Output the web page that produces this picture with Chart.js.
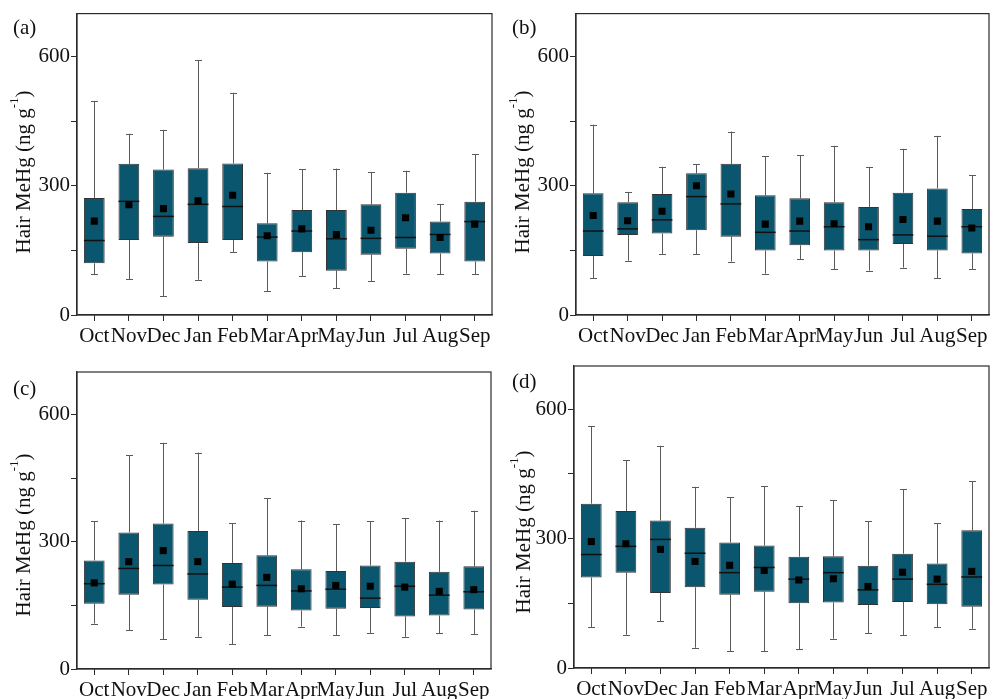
<!DOCTYPE html>
<html>
<head>
<meta charset="utf-8">
<script src="https://cdn.jsdelivr.net/npm/chart.js@4"></script>
<style>
  body { margin: 0; background: #fff; }
  .panel { position: absolute; width: 497px; height: 350px; }
</style>
</head>
<body>
<div class="panel" style="left:0;top:0"><canvas id="chartA"></canvas></div>
<div class="panel" style="left:497px;top:0"><canvas id="chartB"></canvas></div>
<div class="panel" style="left:0;top:350px"><canvas id="chartC"></canvas></div>
<div class="panel" style="left:497px;top:350px"><canvas id="chartD"></canvas></div>
<script>
// Hair MeHg box plots by month, four panels

const months = ['Oct', 'Nov', 'Dec', 'Jan', 'Feb', 'Mar', 'Apr', 'May', 'Jun', 'Jul', 'Aug', 'Sep'];
const yTicks = [0, 150, 300, 450, 600];
const yLabeled = [0, 300, 600];

// panel (a)
const aLow  = [95, 83, 43, 82, 146, 56, 90, 62, 79, 96, 95, 95];
const aQ1   = [120, 174, 182, 167, 174, 124, 146, 103, 140, 154, 143, 124];
const aMed  = [173, 264, 229, 257, 252, 181, 195, 177, 178, 180, 187, 217];
const aQ3   = [272, 351, 338, 341, 352, 213, 244, 244, 257, 284, 217, 263];
const aHigh = [496, 421, 430, 592, 516, 330, 338, 340, 331, 335, 258, 373];
const aMean = [218, 256, 247, 265, 278, 184, 200, 187, 197, 226, 180, 211];

// panel (b)
const bLow  = [86, 126, 142, 141, 124, 96, 130, 106, 103, 110, 86, 107];
const bQ1   = [137, 186, 189, 197, 182, 150, 162, 150, 150, 165, 150, 143];
const bMed  = [195, 200, 221, 275, 258, 192, 195, 205, 175, 186, 183, 205];
const bQ3   = [283, 262, 281, 329, 351, 278, 271, 262, 251, 284, 294, 246];
const bHigh = [442, 286, 344, 350, 426, 369, 371, 393, 344, 386, 416, 324];
const bMean = [231, 219, 241, 300, 281, 211, 218, 212, 205, 222, 218, 202];

// panel (c)
const cLow  = [107, 92, 70, 76, 58, 79, 100, 79, 85, 76, 84, 82];
const cQ1   = [154, 175, 199, 163, 146, 147, 138, 142, 144, 124, 126, 140];
const cMed  = [201, 237, 244, 224, 193, 197, 184, 188, 167, 195, 174, 182];
const cQ3   = [256, 322, 343, 325, 250, 268, 235, 231, 244, 253, 229, 242];
const cHigh = [348, 504, 533, 510, 344, 403, 350, 341, 348, 356, 350, 373];
const cMean = [203, 253, 279, 253, 200, 216, 189, 197, 195, 193, 183, 187];

// panel (d)
const dLow  = [94, 77, 109, 47, 39, 39, 44, 68, 80, 76, 95, 91];
const dQ1   = [210, 221, 174, 187, 170, 177, 150, 152, 146, 153, 148, 142];
const dMed  = [263, 282, 298, 266, 221, 233, 206, 221, 181, 206, 194, 211];
const dQ3   = [381, 364, 342, 325, 291, 284, 258, 259, 237, 265, 242, 319];
const dHigh = [561, 482, 515, 420, 396, 421, 375, 389, 340, 415, 336, 433];
const dMean = [293, 288, 275, 247, 238, 226, 204, 207, 189, 222, 206, 224];

const FONT = "'Liberation Serif', 'Times New Roman', serif";
const BOX_FILL = '#0a566e';
const INK = '#2b2b2b';

// whiskers under the boxes, medians on top of the boxes, frame + texts last
const boxPlotPlugin = {
    id: 'boxPlot',
    beforeDatasetsDraw(chart) {
        const s = chart.options.plugins.boxPlot;
        const x = chart.scales.x, y = chart.scales.y;
        const ctx = chart.ctx;
        ctx.save();
        ctx.strokeStyle = '#5a5a5a';
        ctx.lineWidth = 1;
        s.low.forEach((lo, i) => {
            const cx = Math.round(x.getPixelForValue(i)) + 0.5;
            const yLo = y.getPixelForValue(lo), yHi = y.getPixelForValue(s.high[i]);
            ctx.beginPath();
            ctx.moveTo(cx, yLo); ctx.lineTo(cx, y.getPixelForValue(s.q1[i]));
            ctx.moveTo(cx, y.getPixelForValue(s.q3[i])); ctx.lineTo(cx, yHi);
            ctx.moveTo(cx - 3.5, Math.round(yLo) + 0.5); ctx.lineTo(cx + 3.5, Math.round(yLo) + 0.5);
            ctx.moveTo(cx - 3.5, Math.round(yHi) + 0.5); ctx.lineTo(cx + 3.5, Math.round(yHi) + 0.5);
            ctx.stroke();
        });
        ctx.restore();
    },
    afterDatasetDraw(chart, args) {
        if (args.meta.type !== 'bar') return;
        const s = chart.options.plugins.boxPlot;
        const y = chart.scales.y;
        const ctx = chart.ctx;
        ctx.save();
        ctx.strokeStyle = '#111';
        ctx.lineWidth = 1.5;
        args.meta.data.forEach((bar, i) => {
            const half = bar.width / 2;
            const my = y.getPixelForValue(s.med[i]);
            ctx.beginPath();
            ctx.moveTo(bar.x - half, my); ctx.lineTo(bar.x + half, my);
            ctx.stroke();
        });
        ctx.restore();
    },
    afterDraw(chart) {
        const s = chart.options.plugins.boxPlot;
        const a = chart.chartArea;
        const ctx = chart.ctx;
        ctx.save();
        ctx.strokeStyle = INK;
        ctx.lineWidth = 1.2;
        ctx.strokeRect(a.left, a.top, a.right - a.left, a.bottom - a.top);

        ctx.fillStyle = '#111';
        ctx.font = '21px ' + FONT;
        ctx.textBaseline = 'middle';
        ctx.textAlign = 'left';
        ctx.fillText(s.tag, s.tagX, s.tagY);

        // y title with superscript
        const main = 'Hair MeHg (ng g';
        const sup = '-1';
        const close = ')';
        ctx.font = '21px ' + FONT;
        const wMain = ctx.measureText(main).width;
        const wClose = ctx.measureText(close).width;
        ctx.font = '13px ' + FONT;
        const wSup = ctx.measureText(sup).width;
        const total = wMain + wSup + wClose;
        ctx.translate(s.titleX, s.titleY);
        ctx.rotate(-Math.PI / 2);
        let px = -total / 2;
        ctx.font = '21px ' + FONT;
        ctx.fillText(main, px, 0);
        px += wMain;
        ctx.font = '13px ' + FONT;
        ctx.fillText(sup, px, -9);
        px += wSup;
        ctx.font = '21px ' + FONT;
        ctx.fillText(close, px, 0);
        ctx.restore();
    }
};

function makePanel(canvasId, d, box) {
    const W = 497, H = 350;
    const ctx = document.getElementById(canvasId).getContext('2d');
    return new Chart(ctx, {
        type: 'bar',
        data: {
            labels: months,
            datasets: [{
                type: 'bar',
                data: d.q1.map((v, i) => [v, d.q3[i]]),
                backgroundColor: BOX_FILL,
                borderColor: '#333',
                borderWidth: 1,
                borderSkipped: false,
                barPercentage: 0.6,
                categoryPercentage: 1,
                order: 2
            }, {
                type: 'line',
                data: d.mean,
                showLine: false,
                pointStyle: 'rect',
                pointRadius: 5,
                pointBackgroundColor: '#000',
                pointBorderWidth: 0,
                order: 1
            }]
        },
        options: {
            responsive: true,
            maintainAspectRatio: false,
            animation: false,
            layout: {
                padding: { left: 0, top: box.top, right: W - box.right, bottom: 0 }
            },
            scales: {
                x: {
                    offset: true,
                    afterFit(scale) { scale.height = H - box.bottom; },
                    grid: { offset: false, drawOnChartArea: false, tickLength: 6, tickColor: INK, tickWidth: 1 },
                    border: { display: true, color: INK, width: 1.2 },
                    ticks: {
                        autoSkip: false, maxRotation: 0, minRotation: 0, padding: 3,
                        color: '#111', font: { family: FONT, size: 21 }
                    }
                },
                y: {
                    min: 0,
                    max: 700,
                    afterFit(scale) { scale.width = box.left; },
                    afterBuildTicks(scale) { scale.ticks = yTicks.map(v => ({ value: v })); },
                    grid: { drawOnChartArea: false, tickLength: 6, tickColor: INK, tickWidth: 1 },
                    border: { display: true, color: INK, width: 1.2 },
                    ticks: {
                        padding: 1,
                        color: '#111',
                        font: { family: FONT, size: 21 },
                        callback: v => yLabeled.includes(v) ? String(v) : ''
                    }
                }
            },
            plugins: {
                legend: { display: false },
                tooltip: { enabled: false },
                boxPlot: Object.assign({}, d, box)
            }
        },
        plugins: [boxPlotPlugin]
    });
}

makePanel('chartA',
    { low: aLow, q1: aQ1, med: aMed, q3: aQ3, high: aHigh, mean: aMean },
    { left: 77, top: 13, right: 493, bottom: 315, tag: '(a)', tagX: 13, tagY: 28, titleX: 24, titleY: 172 });
makePanel('chartB',
    { low: bLow, q1: bQ1, med: bMed, q3: bQ3, high: bHigh, mean: bMean },
    { left: 79, top: 13, right: 496, bottom: 315, tag: '(b)', tagX: 15, tagY: 28, titleX: 26, titleY: 172 });
makePanel('chartC',
    { low: cLow, q1: cQ1, med: cMed, q3: cQ3, high: cHigh, mean: cMean },
    { left: 77, top: 22, right: 491, bottom: 319, tag: '(c)', tagX: 13, tagY: 39, titleX: 24, titleY: 185 });
makePanel('chartD',
    { low: dLow, q1: dQ1, med: dMed, q3: dQ3, high: dHigh, mean: dMean },
    { left: 77, top: 16, right: 494, bottom: 318, tag: '(d)', tagX: 15, tagY: 32, titleX: 27, titleY: 182 });
</script>
</body>
</html>
